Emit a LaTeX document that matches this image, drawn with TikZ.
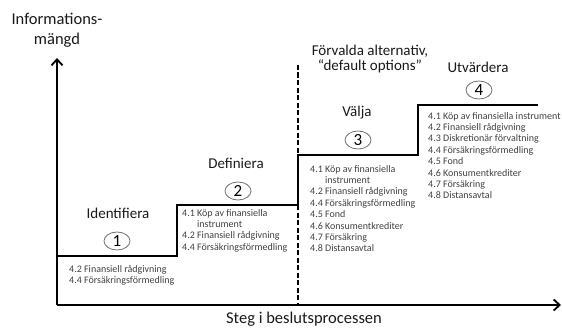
\documentclass[tikz,border=0pt]{standalone}
\usepackage{fontspec}
\setmainfont{Carlito}
\usetikzlibrary{arrows.meta,shapes.geometric}
\begin{document}
\begin{tikzpicture}[x=1pt,y=-1pt,
    rubrik/.style={text=black!90,font=\fontsize{15}{15}\selectfont},
    axeltext/.style={text=black!90,align=center,font=\fontsize{16.5}{20}\selectfont},
    lista/.style={anchor=north west,align=left,inner sep=0pt,text=black!75,
      font=\fontsize{10}{11.4}\selectfont},
    stegnr/.style={ellipse,draw=black!55,line width=0.8pt,minimum width=26pt,
      minimum height=18pt,inner sep=0pt,font=\fontsize{17}{17}\selectfont},
    axel/.style={line width=2.4pt,-{Straight Barb[length=6pt,width=11pt,line width=1.8pt]}},
    streck/.style={line width=2pt,dash pattern=on 5pt off 2.5pt}]
  \useasboundingbox (0,0) rectangle (562,329);
  % axlar
  \coordinate (origo) at (57,305);
  \coordinate (ytopp) at (57,58);
  \coordinate (xslut) at (561,305);
  \draw[axel] (origo) -- (ytopp);
  \draw[axel] (origo) -- (xslut);
  \node[axeltext] (yetikett) at (57,30) {Informations-\\mängd};
  \node[axeltext] (xetikett) at (304,319) {Steg i beslutsprocessen};
  % trappan
  \draw[line width=2.4pt] (57,256) -| (177,205) -| (298,155) -| (418,105) -- (538,105);
  \draw[streck] (298,65) -- (298,155);
  \draw[streck] (298,205) -- (298,305);
  \node[rubrik,align=center,font=\fontsize{15}{15.5}\selectfont] (forval) at (370,59) {Förvalda alternativ,\\“default options”};
  % steg 1
  \node[rubrik] (identifiera) at (118,213) {Identifiera};
  \node[stegnr] (steg1) at (117,241) {1};
  \node[lista] (lista1) at (69,265) {4.2 Finansiell rådgivning\\4.4 Försäkringsförmedling};
  % steg 2
  \node[rubrik] (definiera) at (236,163) {Definiera};
  \node[stegnr] (steg2) at (238,191) {2};
  \node[lista] (lista2) at (182,209) {4.1 Köp av finansiella\\\hspace*{15pt}instrument\\4.2 Finansiell rådgivning\\4.4 Försäkringsförmedling};
  % steg 3
  \node[rubrik] (valja) at (357,113) {Välja};
  \node[stegnr] (steg3) at (358,140) {3};
  \node[lista] (lista3) at (310,165) {4.1 Köp av finansiella\\\hspace*{15pt}instrument\\4.2 Finansiell rådgivning\\4.4 Försäkringsförmedling\\4.5 Fond\\4.6 Konsumentkrediter\\4.7 Försäkring\\4.8 Distansavtal};
  % steg 4
  \node[rubrik] (utvardera) at (478,67) {Utvärdera};
  \node[stegnr] (steg4) at (479,90) {4};
  \node[lista] (lista4) at (428,112) {4.1 Köp av finansiella instrument\\4.2 Finansiell rådgivning\\4.3 Diskretionär förvaltning\\4.4 Försäkringsförmedling\\4.5 Fond\\4.6 Konsumentkrediter\\4.7 Försäkring\\4.8 Distansavtal};
\end{tikzpicture}
\end{document}
